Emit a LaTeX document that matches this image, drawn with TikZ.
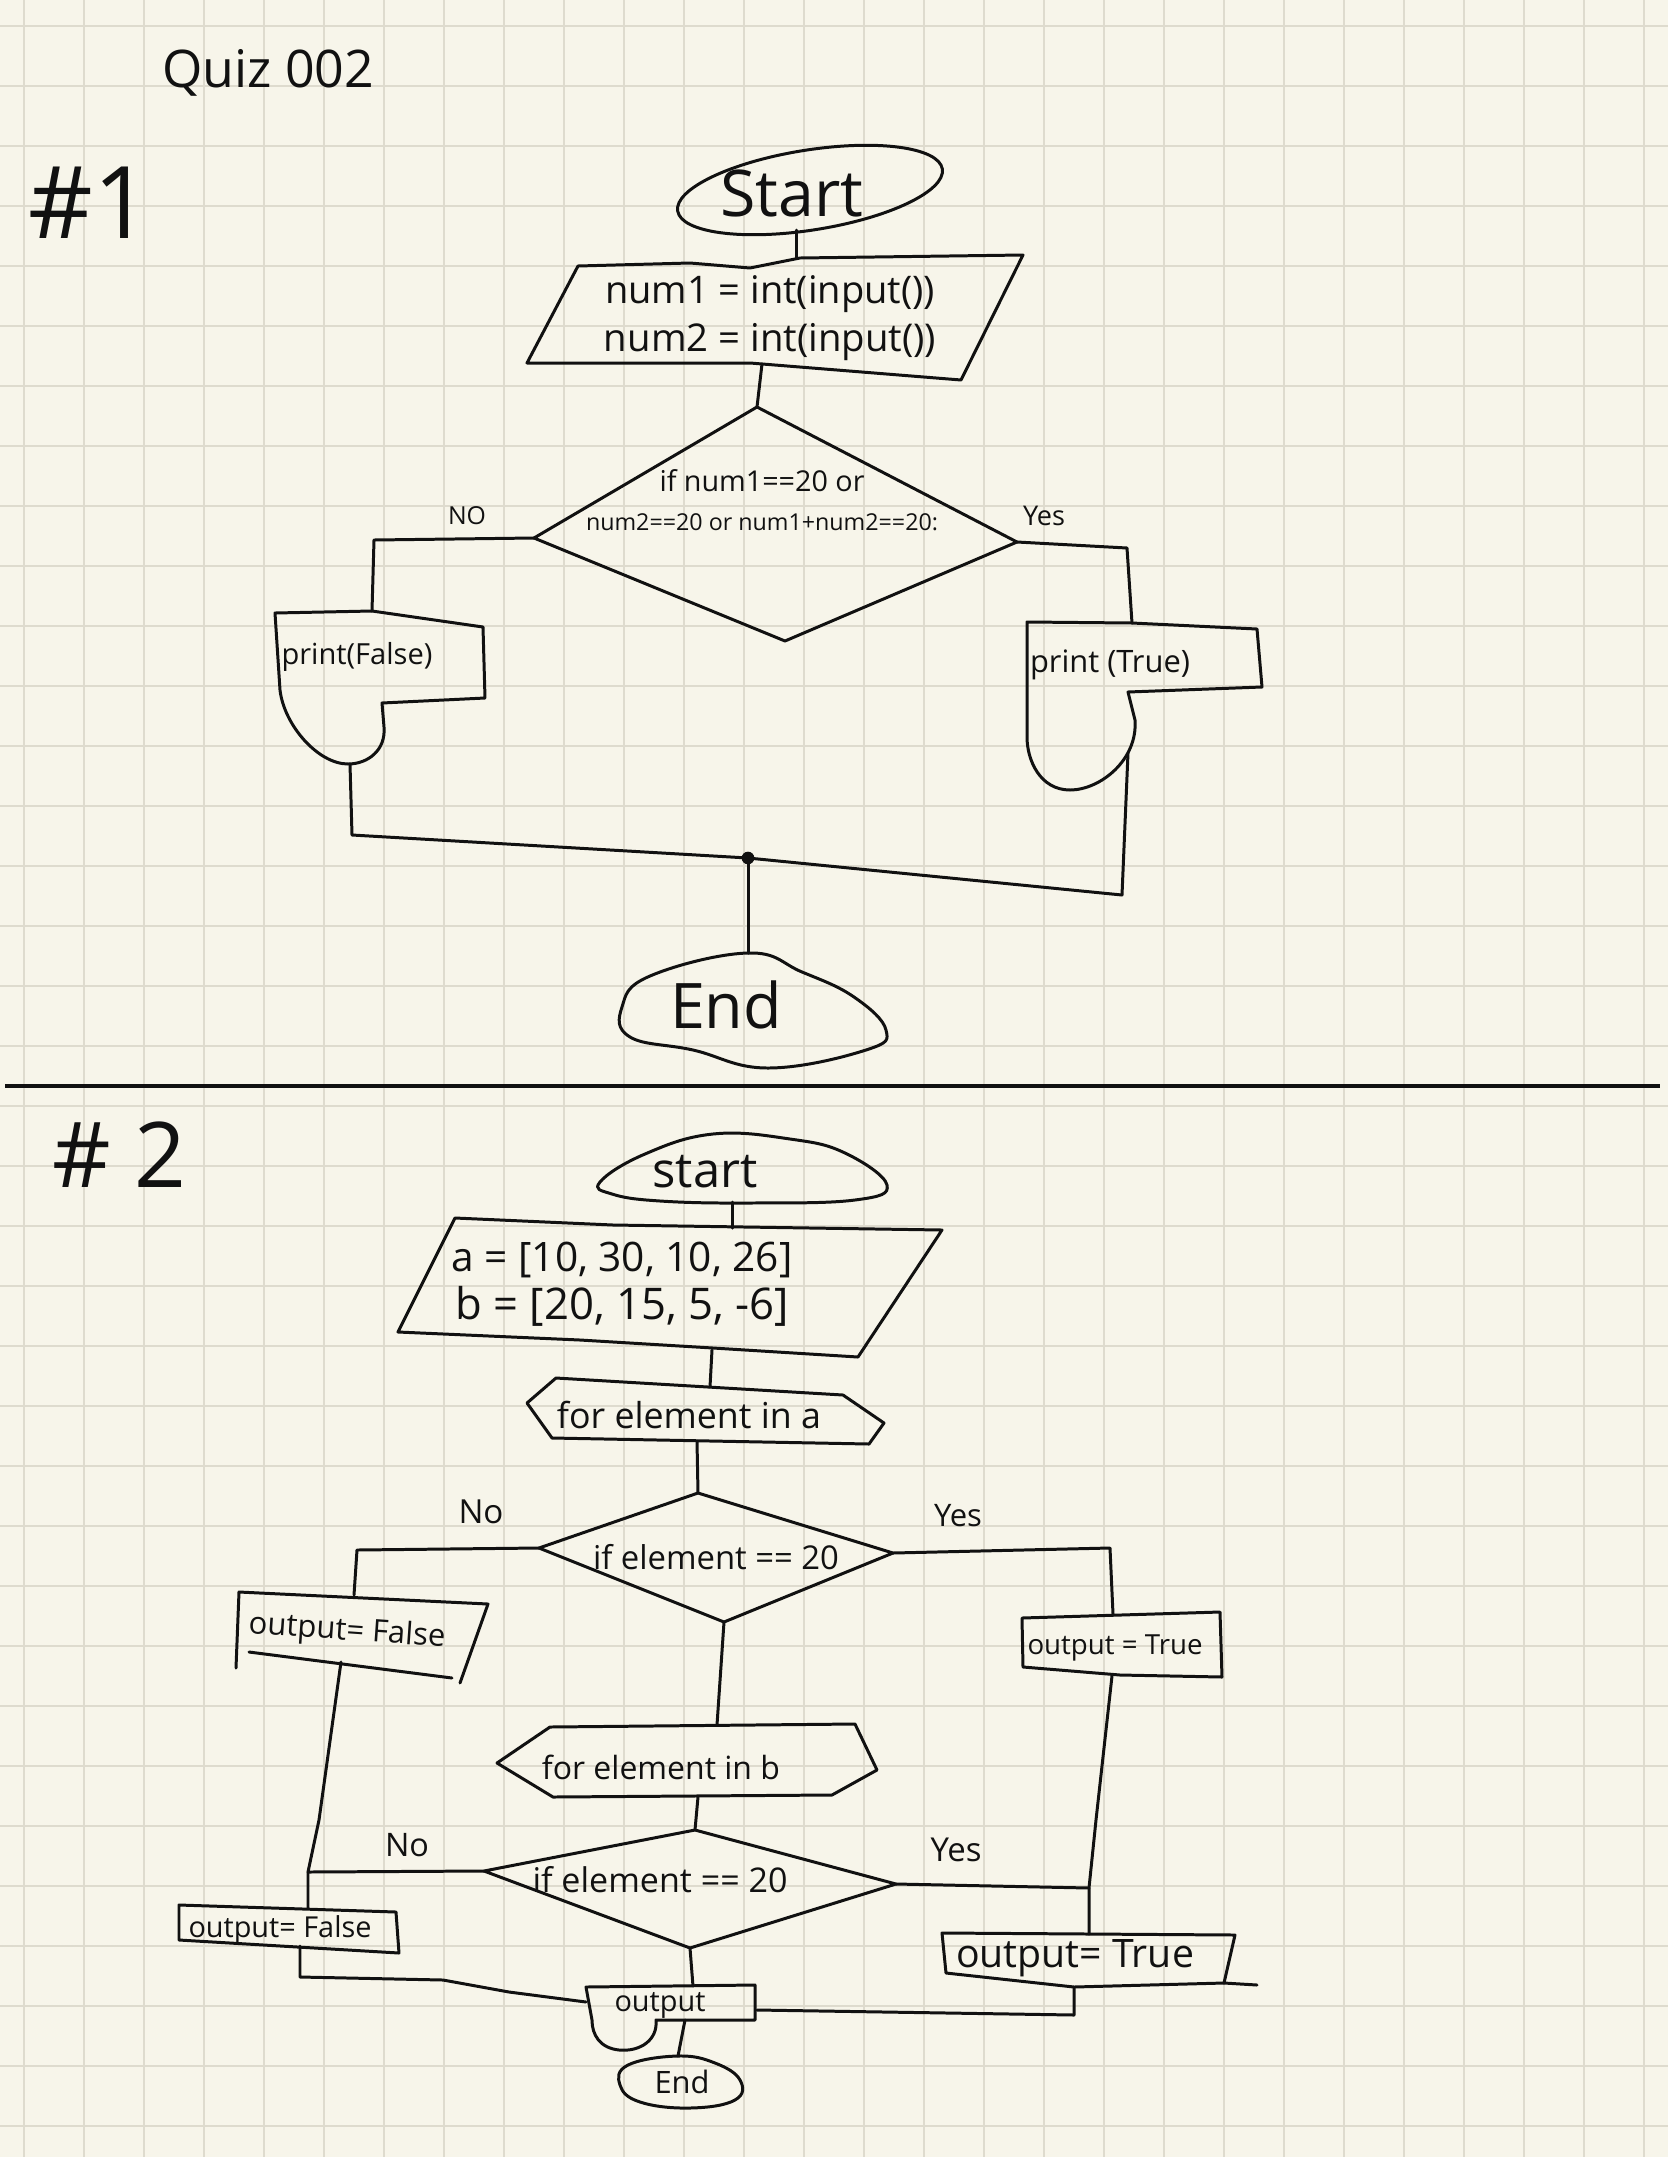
\documentclass[tikz,border=0pt]{standalone}
\usepackage{fontspec}
\setmainfont{Open Sans}
\usetikzlibrary{calc}
\definecolor{paper}{HTML}{F7F5EA}
\definecolor{gridc}{HTML}{DEDBCE}
\definecolor{inkc}{HTML}{111111}
\newlength\pxu
\setlength\pxu{0.01cm}
% scale a piece of text to a given width in drawing units
\newcommand\fitw[2]{\resizebox{#1\pxu}{!}{#2}}

\begin{document}
\begin{tikzpicture}[x=0.01cm,y=-0.01cm,
  ink/.style={draw=inkc, line width=0.85pt, line join=round, line cap=round},
  lbl/.style={inner sep=0pt, text=inkc, align=center, font=\fontsize{8}{13}\selectfont},
  gridline/.style={draw=gridc, line width=0.6pt}]

\fill[paper] (0,0) rectangle (1668,2157);
\useasboundingbox (0,0) rectangle (1668,2157);

% squared paper
\foreach \gx in {24,84,...,1644} \draw[gridline] (\gx,0) -- (\gx,2157);
\foreach \gy in {26,86,...,2126} \draw[gridline] (0,\gy) -- (1668,\gy);

% headings
\node[lbl] (title) at (268,73) {\fitw{212}{Quiz 002}};
\node[lbl] (hone) at (90,203) {\fitw{122}{\#1}};
\node[lbl] (htwo) at (119,1155) {\fitw{134}{\# 2}};

% ================= problem 1 =================
% start terminal
\draw[ink, rotate around={9:(810,190)}] (810,190) ellipse [x radius=134, y radius=40];
\node[lbl] (startA) at (792,193) {\fitw{143}{Start}};
\coordinate (startAbot) at (796,230);

% input parallelogram
\draw[ink] (578,266) -- (690,263) -- (750,268) -- (800,258) -- (1023,255)
  -- (961,380) -- (750,363) -- (527,363) -- cycle;
\node[lbl, font=\fontsize{8}{13.5}\selectfont] (inA) at (770,318)
  {\fitw{330}{num1 = int(input())}\\\fitw{332}{num2 = int(input())}};
\coordinate (inAtop) at (796,258);
\coordinate (inAbot) at (762,364);

% decision
\coordinate (dAtop) at (757,407);
\coordinate (dAleft) at (534,538);
\coordinate (dAright) at (1017,542);
\coordinate (dAbot) at (785,641);
\draw[ink] (dAtop) -- (dAright) -- (dAbot) -- (dAleft) -- cycle;
\node[lbl, font=\fontsize{8}{11}\selectfont] (condA) at (762,500)
  {\fitw{205}{if num1==20 or}\\\fitw{352}{num2==20 or num1+num2==20:}};
\node[lbl] (noA) at (467,516) {\fitw{38}{NO}};
\node[lbl] (yesA) at (1044,516) {\fitw{42}{Yes}};

% print(False)
\draw[ink] (275,613) -- (372,611) -- (483,627) -- (485,698) -- (382,703) -- (384,727)
  .. controls (386,750) and (368,764) .. (348,764)
  .. controls (318,764) and (284,725) .. (280,690) -- cycle;
\node[lbl] (prF) at (357,657) {\fitw{151}{print(False)}};
\coordinate (prFtop) at (372,611);
\coordinate (prFbot) at (350,764);

% print(True)
\draw[ink] (1027,622) -- (1132,623) -- (1257,629) -- (1262,687) -- (1128,692) -- (1135,720)
  .. controls (1138,760) and (1100,790) .. (1070,790)
  .. controls (1040,790) and (1027,760) .. (1027,737) -- cycle;
\node[lbl] (prT) at (1110,665) {\fitw{160}{print (True)}};
\coordinate (prTtop) at (1132,623);
\coordinate (prTbot) at (1128,753);

% branches
\draw[ink] (dAbot) ++(0,0);
\draw[ink] (inAbot) -- (dAtop);
\draw[ink] (startAbot) -- (inAtop);
\draw[ink] (dAleft) -- (374,540) -- (prFtop);
\draw[ink] (dAright) -- (1127,548) -- (prTtop);

% merge and end
\coordinate (joinA) at (748,858);
\draw[ink] (prFbot) -- (352,835) -- (joinA) -- (1122,895) -- (prTbot);
\fill[inkc] (joinA) circle[radius=1.8pt];
\coordinate (endAtop) at (748,953);
\draw[ink] plot[smooth cycle, tension=0.7] coordinates
  {(748,953) (802,972) (854,997) (886,1030) (866,1050) (768,1068)
   (693,1050) (630,1037) (622,1007) (650,976)};
\node[lbl] (endA) at (726,1005) {\fitw{112}{End}};
\draw[ink] (joinA) -- (endAtop);

% divider
\draw[inkc, line width=1.1pt] (5,1086) -- (1660,1086);

% ================= problem 2 =================
\draw[ink] plot[smooth cycle, tension=0.7] coordinates
  {(600,1182) (645,1154) (713,1134) (790,1139) (845,1153) (887,1185)
   (855,1200) (750,1203) (660,1201) (612,1194)};
\node[lbl] (startB) at (705,1172) {\fitw{105}{start}};
\coordinate (startBbot) at (732,1202);

% lists
\draw[ink] (455,1218) -- (613,1225) -- (942,1230) -- (858,1357) -- (713,1348)
  -- (580,1340) -- (398,1332) -- cycle;
\node[lbl, font=\fontsize{8}{13.5}\selectfont] (inB) at (622,1284)
  {\fitw{341}{a = [10, 30, 10, 26]}\\\fitw{333}{b = [20, 15, 5, -6]}};
\coordinate (inBtop) at (732,1228);
\coordinate (inBbot) at (712,1350);
\draw[ink] (startBbot) -- (inBtop);

% outer loop
\draw[ink] (556,1378) -- (843,1395) -- (884,1423) -- (869,1444) -- (552,1438) -- (527,1403) -- cycle;
\node[lbl] (loopA) at (689,1415) {\fitw{264}{for element in a}};
\coordinate (loopAtop) at (710,1387);
\coordinate (loopAbot) at (697,1441);
\draw[ink] (inBbot) -- (loopAtop);

% first test
\coordinate (dBtop) at (698,1493);
\coordinate (dBleft) at (539,1548);
\coordinate (dBright) at (893,1553);
\coordinate (dBbot) at (724,1622);
\draw[ink] (dBtop) -- (dBright) -- (dBbot) -- (dBleft) -- cycle;
\node[lbl] (condB) at (716,1557) {\fitw{246}{if element == 20}};
\node[lbl] (noB) at (481,1512) {\fitw{45}{No}};
\node[lbl] (yesB) at (958,1516) {\fitw{48}{Yes}};
\draw[ink] (loopAbot) -- (dBtop);

% output = False (first)
\draw[ink] (236,1668) -- (239,1592) -- (488,1604) -- (460,1683);
\draw[ink] (249,1652) -- (452,1678);
\node[lbl, rotate=-4] (setF1) at (347,1632) {\fitw{197}{output= False}};
\coordinate (setF1top) at (354,1595);
\coordinate (setF1bot) at (341,1662);
\draw[ink] (dBleft) -- (357,1550) -- (setF1top);

% output = True (first)
\draw[ink] (1022,1618) -- (1220,1612) -- (1222,1677) -- (1120,1675) -- (1023,1667) -- cycle;
\node[lbl] (setT1) at (1115,1648) {\fitw{175}{output = True}};
\coordinate (setT1top) at (1113,1614);
\coordinate (setT1bot) at (1112,1676);
\draw[ink] (dBright) -- (1110,1548) -- (setT1top);

% inner loop
\draw[ink] (550,1727) -- (855,1724) -- (877,1770) -- (832,1795) -- (553,1797) -- (497,1763) -- cycle;
\node[lbl] (loopB) at (661,1767) {\fitw{238}{for element in b}};
\coordinate (loopBtop) at (717,1725);
\coordinate (loopBbot) at (698,1797);
\draw[ink] (dBbot) -- (loopBtop);

% second test
\coordinate (dCtop) at (695,1830);
\coordinate (dCleft) at (484,1871);
\coordinate (dCright) at (896,1884);
\coordinate (dCbot) at (690,1948);
\draw[ink] (dCtop) -- (dCright) -- (dCbot) -- (dCleft) -- cycle;
\node[lbl] (condC) at (660,1880) {\fitw{255}{if element == 20}};
\node[lbl] (noC) at (407,1845) {\fitw{44}{No}};
\node[lbl] (yesC) at (956,1850) {\fitw{51}{Yes}};
\draw[ink] (loopBbot) -- (dCtop);

% output = False (second)
\draw[ink] (179,1905) -- (396,1912) -- (399,1953) -- (179,1940) -- cycle;
\node[lbl] (setF2) at (280,1930) {\fitw{183}{output= False}};
\coordinate (setF2top) at (308,1908);
\coordinate (setF2bot) at (300,1946);
\coordinate (joinF) at (308,1872);
\draw[ink] (setF1bot) -- (319,1820) -- (joinF) -- (setF2top);
\draw[ink] (dCleft) -- (joinF);

% output = True (second)
\draw[ink] (942,1933) -- (1235,1935) -- (1224,1983) -- (1074,1987) -- (946,1973) -- cycle;
\draw[ink] (1224,1983) -- (1257,1985);
\node[lbl] (setT2) at (1075,1958) {\fitw{238}{output= True}};
\coordinate (setT2top) at (1089,1934);
\coordinate (setT2bot) at (1074,1987);
\coordinate (joinT) at (1089,1888);
\draw[ink] (setT1bot) -- (1096,1820) -- (joinT) -- (setT2top);
\draw[ink] (dCright) -- (joinT);

% result
\draw[ink] (586,1987) -- (755,1985) -- (755,2020) -- (656,2020)
  .. controls (658,2040) and (640,2052) .. (619,2050)
  .. controls (600,2048) and (592,2035) .. (592,2020) -- cycle;
\node[lbl] (outN) at (660,2005) {\fitw{91}{output}};
\coordinate (outNtop) at (693,1986);
\coordinate (outNleft) at (586,2002);
\coordinate (outNright) at (757,2010);
\coordinate (outNbot) at (685,2020);
\draw[ink] (dCbot) -- (outNtop);
\draw[ink] (setF2bot) -- (300,1977) -- (443,1980) -- (509,1992) -- (outNleft);
\draw[ink] (setT2bot) -- (1074,2015) -- (outNright);

% end
\draw[ink] plot[smooth cycle, tension=0.7] coordinates
  {(678,2056) (715,2063) (740,2080) (735,2100) (690,2108) (640,2102) (620,2085) (628,2065)};
\node[lbl] (endB) at (682,2082) {\fitw{55}{End}};
\coordinate (endBtop) at (678,2056);
\draw[ink] (outNbot) -- (endBtop);

\end{tikzpicture}
\end{document}
